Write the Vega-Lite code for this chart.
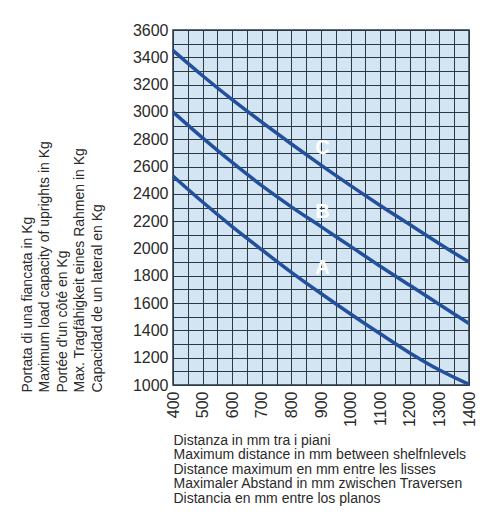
{
  "$schema": "https://vega.github.io/schema/vega-lite/v6.json",
  "width": 296,
  "height": 355,
  "autosize": "none",
  "padding": {"left": 173, "top": 30, "right": 17, "bottom": 134},
  "background": "white",
  "config": {
    "font": "Liberation Sans",
    "view": {"fill": "#d3e5f2", "stroke": "#2b3945", "strokeWidth": 1.5}
  },
  "datasets": {
    "curves": [
      {"curve": "A", "distance": 400, "load": 2530},
      {"curve": "A", "distance": 500, "load": 2340},
      {"curve": "A", "distance": 600, "load": 2160},
      {"curve": "A", "distance": 700, "load": 1990},
      {"curve": "A", "distance": 800, "load": 1825},
      {"curve": "A", "distance": 900, "load": 1670},
      {"curve": "A", "distance": 1000, "load": 1520},
      {"curve": "A", "distance": 1100, "load": 1375},
      {"curve": "A", "distance": 1200, "load": 1235},
      {"curve": "A", "distance": 1300, "load": 1110},
      {"curve": "A", "distance": 1400, "load": 1005},
      {"curve": "B", "distance": 400, "load": 3000},
      {"curve": "B", "distance": 500, "load": 2810},
      {"curve": "B", "distance": 600, "load": 2630},
      {"curve": "B", "distance": 700, "load": 2460},
      {"curve": "B", "distance": 800, "load": 2305},
      {"curve": "B", "distance": 900, "load": 2160},
      {"curve": "B", "distance": 1000, "load": 2015},
      {"curve": "B", "distance": 1100, "load": 1870},
      {"curve": "B", "distance": 1200, "load": 1730},
      {"curve": "B", "distance": 1300, "load": 1590},
      {"curve": "B", "distance": 1400, "load": 1450},
      {"curve": "C", "distance": 400, "load": 3450},
      {"curve": "C", "distance": 500, "load": 3265},
      {"curve": "C", "distance": 600, "load": 3090},
      {"curve": "C", "distance": 700, "load": 2925},
      {"curve": "C", "distance": 800, "load": 2765},
      {"curve": "C", "distance": 900, "load": 2610},
      {"curve": "C", "distance": 1000, "load": 2460},
      {"curve": "C", "distance": 1100, "load": 2315},
      {"curve": "C", "distance": 1200, "load": 2175},
      {"curve": "C", "distance": 1300, "load": 2035},
      {"curve": "C", "distance": 1400, "load": 1900}
    ],
    "letters": [
      {"curve": "A", "distance": 905, "load": 1860},
      {"curve": "B", "distance": 905, "load": 2270},
      {"curve": "C", "distance": 905, "load": 2735}
    ]
  },
  "encoding": {
    "x": {
      "field": "distance", "type": "quantitative",
      "scale": {"domain": [400, 1400], "nice": false, "zero": false},
      "axis": {
        "values": [400,450,500,550,600,650,700,750,800,850,900,950,1000,1050,1100,1150,1200,1250,1300,1350,1400],
        "format": "d",
        "labelExpr": "datum.value % 100 === 0 ? datum.label : ''",
        "labelAngle": 270,
        "labelFontSize": 16,
        "labelColor": "#2a2a2a",
        "labelPadding": 6,
        "labelOverlap": false,
        "labelFlush": false,
        "ticks": false,
        "domain": false,
        "grid": true,
        "gridColor": "#2b3945",
        "gridOpacity": 1,
        "gridWidth": 1,
        "title": ["Distanza in mm tra i piani", "Maximum distance in mm between shelfnlevels", "Distance maximum en mm entre les lisses", "Maximaler Abstand in mm zwischen Traversen", "Distancia en mm entre los planos"],
        "titleFontSize": 14,
        "titleFontWeight": "normal",
        "titleColor": "#2a2a2a",
        "titleLineHeight": 14.5,
        "titleAnchor": "start",
        "titleAlign": "left",
        "titleBaseline": "top",
        "titleAngle": 0,
        "titleX": 0,
        "titleY": 48
      }
    },
    "y": {
      "field": "load", "type": "quantitative",
      "scale": {"domain": [1000, 3600], "nice": false, "zero": false},
      "axis": {
        "values": [1000,1100,1200,1300,1400,1500,1600,1700,1800,1900,2000,2100,2200,2300,2400,2500,2600,2700,2800,2900,3000,3100,3200,3300,3400,3500,3600],
        "format": "d",
        "labelExpr": "datum.value % 200 === 0 ? datum.label : ''",
        "labelFontSize": 16,
        "labelColor": "#2a2a2a",
        "labelPadding": 5,
        "labelOverlap": false,
        "labelFlush": false,
        "ticks": false,
        "domain": false,
        "grid": true,
        "gridColor": "#2b3945",
        "gridOpacity": 1,
        "gridWidth": 1,
        "title": ["Portata di una fiancata in Kg", "Maximum load capacity of uprights in Kg", "Portée d'un côté en Kg", "Max. Tragfähigkeit eines Rahmen in Kg", "Capacidad de un lateral en Kg"],
        "titleFontSize": 14,
        "titleFontWeight": "normal",
        "titleColor": "#2a2a2a",
        "titleLineHeight": 17.5,
        "titleAnchor": "start",
        "titleAlign": "left",
        "titleBaseline": "top",
        "titleAngle": 270,
        "titleX": -153,
        "titleY": 362
      }
    }
  },
  "layer": [
    {
      "data": {"name": "curves"},
      "mark": {"type": "line", "interpolate": "monotone", "strokeWidth": 3.5, "color": "#23509c"},
      "encoding": {
        "detail": {"field": "curve", "type": "nominal"}
      }
    },
    {
      "data": {"name": "letters"},
      "mark": {"type": "text", "fontSize": 20, "fontWeight": "bold", "color": "white"},
      "encoding": {
        "text": {"field": "curve", "type": "nominal"}
      }
    }
  ]
}
